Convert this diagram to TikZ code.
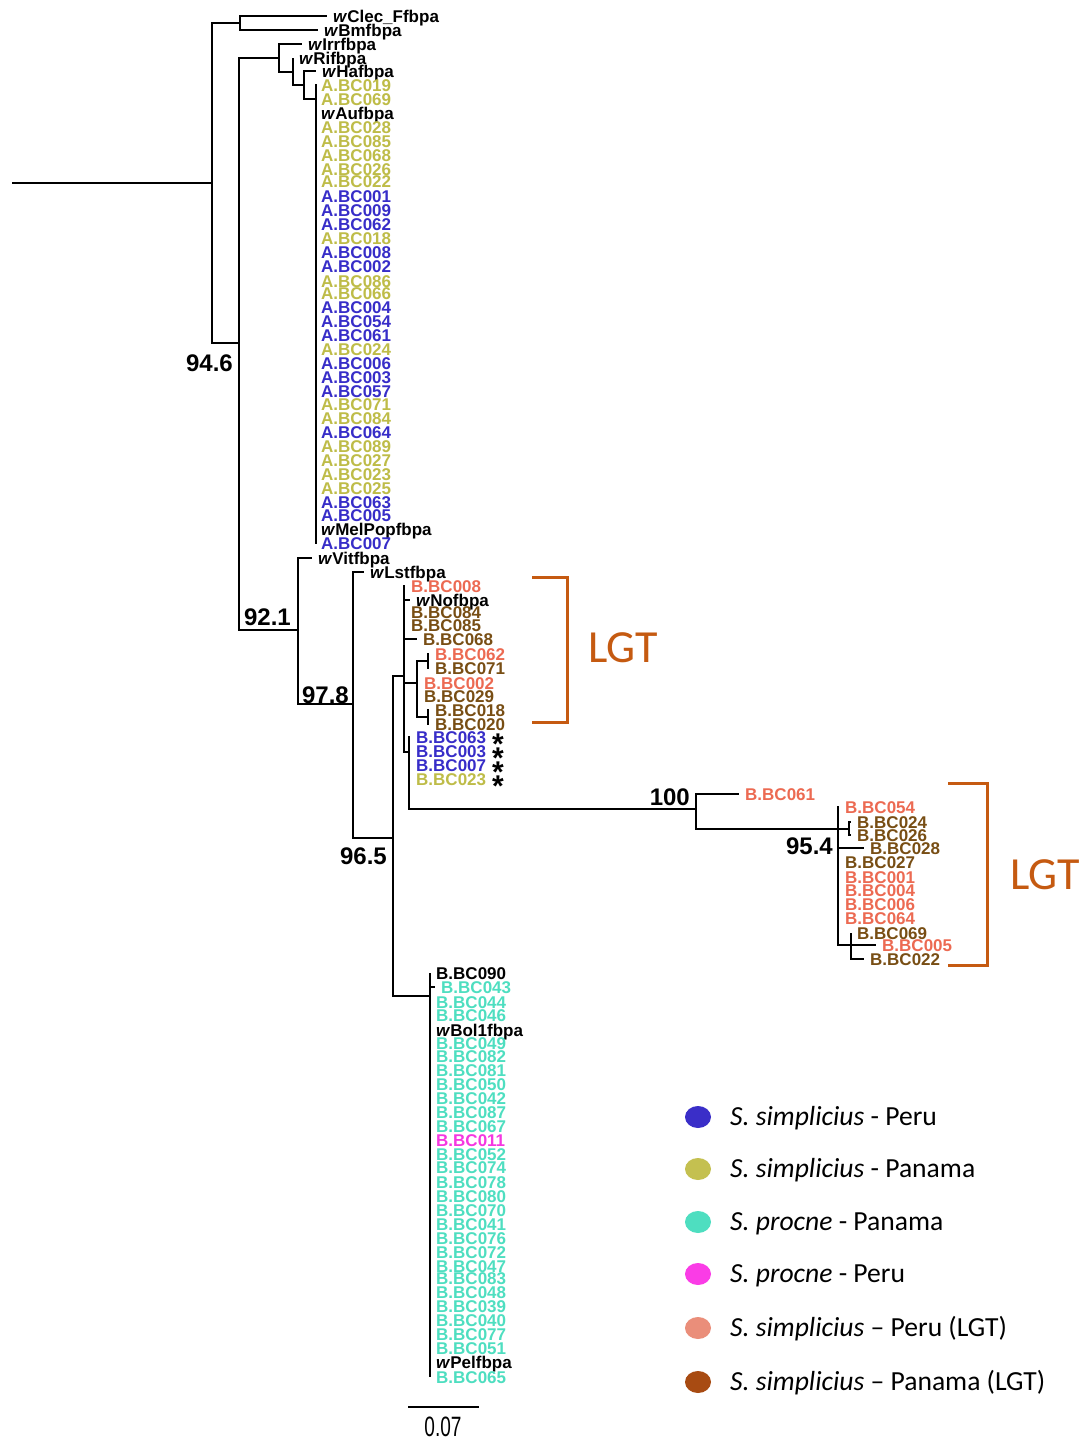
\documentclass[tikz,border=0pt]{standalone}
\usepackage{fontspec}
\setmainfont{Liberation Sans}
\newfontfamily\legfont{Carlito}
\usetikzlibrary{shapes.geometric,calc}
\definecolor{cblue}{RGB}{55,45,200}
\definecolor{colive}{RGB}{190,188,72}
\definecolor{cteal}{RGB}{78,222,192}
\definecolor{cmag}{RGB}{245,55,225}
\definecolor{csal}{RGB}{236,106,82}
\definecolor{cbrn}{RGB}{120,78,20}
\definecolor{dblue}{RGB}{58,46,200}
\definecolor{dolive}{RGB}{196,192,80}
\definecolor{dteal}{RGB}{78,222,192}
\definecolor{dmag}{RGB}{250,60,230}
\definecolor{dsal}{RGB}{234,142,122}
\definecolor{dbrn}{RGB}{168,75,18}
\definecolor{corg}{RGB}{197,90,17}
\newcommand\tipset[2]{%
  \foreach \lx/\ly/\lcol/\ltxt/\lname in {#2}{%
    \node[leaf,text=\lcol] (\lname) at (\lx,\ly) {\ltxt};
    \draw[br] (#1) |- ([xshift=-6pt]\lname.west);
  }}
\begin{document}
\begin{tikzpicture}[x=1pt,y=-1pt,
  leaf/.style={anchor=west,inner sep=0pt,text height=12pt,text depth=0pt,font=\fontsize{17}{17}\selectfont\bfseries},
  br/.style={line width=1.7pt},
  sup/.style={anchor=east,inner sep=0pt,font=\fontsize{24}{24}\selectfont\bfseries},
  lgt/.style={inner sep=0pt,text=corg,font=\legfont\fontsize{46}{46}\selectfont},
  brk/.style={draw=corg,line width=3pt},
  dot/.style={ellipse,minimum width=26pt,minimum height=22pt,inner sep=0pt},
  legtxt/.style={anchor=base west,inner sep=0pt,font=\legfont\fontsize{27.6}{28}\selectfont},
  star/.style={anchor=center,inner sep=0pt,text height=10pt,text depth=0pt,font=\fontsize{30}{30}\selectfont\bfseries}
]
\useasboundingbox (0,0) rectangle (1085,1441);

% internal nodes
\coordinate (r0) at (12,183);
\coordinate (nR) at (212,183);
\coordinate (n1) at (240,23);
\coordinate (n2) at (239,343);
\coordinate (n3) at (279,58);
\coordinate (n5) at (293,72);
\coordinate (n6) at (304,85);
\coordinate (nA) at (316,99);
\coordinate (n4) at (298,630);
\coordinate (n7) at (353,704);
\coordinate (n8) at (393,838);
\coordinate (n9) at (404,676);
\coordinate (n10) at (417,683);
\coordinate (n12) at (428,661);
\coordinate (n13) at (428,717);
\coordinate (n11) at (409,752);
\coordinate (n14) at (696,809);
\coordinate (n15) at (838,829);
\coordinate (n16) at (849,829);
\coordinate (n17) at (851,945);
\coordinate (nB) at (430,996);

\draw[br] (r0) -- (nR);
\draw[br] (nR) |- (n1);
\draw[br] (nR) |- (n2);
\draw[br] (n2) |- (n3);
\draw[br] (n2) |- (n4);
\draw[br] (n3) |- (n5);
\draw[br] (n5) |- (n6);
\draw[br] (n6) |- (nA);
\draw[br] (n4) |- (n7);
\draw[br] (n7) |- (n8);
\draw[br] (n8) |- (n9);
\draw[br] (n8) |- (nB);
\draw[br] (n9) |- (n10);
\draw[br] (n9) |- (n11);
\draw[br] (n10) |- (n12);
\draw[br] (n10) |- (n13);
\draw[br] (n11) |- (n14);
\draw[br] (n14) |- (n15);
\draw[br] (n15) |- (n16);
\draw[br] (n15) |- (n17);

% leaves
\tipset{n1}{333/16/black/{\textit{w}Clec\_Ffbpa}/wClec, 324/30/black/{\textit{w}Bmfbpa}/wBmf}
\tipset{n3}{308/44/black/{\textit{w}Irrfbpa}/wIrr}
\tipset{n5}{299/58/black/{\textit{w}Rifbpa}/wRif}
\tipset{n6}{322/71/black/{\textit{w}Hafbpa}/wHaf}
\tipset{nA}{321/85/colive/A.BC019/a019, 321/99/colive/A.BC069/a069,
 321/113/black/{\textit{w}Aufbpa}/wAuf, 321/127/colive/A.BC028/a028,
 321/141/colive/A.BC085/a085, 321/155/colive/A.BC068/a068,
 321/169/colive/A.BC026/a026, 321/181/colive/A.BC022/a022,
 321/196/cblue/A.BC001/a001, 321/210/cblue/A.BC009/a009,
 321/224/cblue/A.BC062/a062, 321/238/colive/A.BC018/a018,
 321/252/cblue/A.BC008/a008, 321/266/cblue/A.BC002/a002,
 321/281/colive/A.BC086/a086, 321/293/colive/A.BC066/a066,
 321/307/cblue/A.BC004/a004, 321/321/cblue/A.BC054/a054,
 321/335/cblue/A.BC061/a061, 321/349/colive/A.BC024/a024,
 321/363/cblue/A.BC006/a006, 321/377/cblue/A.BC003/a003,
 321/391/cblue/A.BC057/a057, 321/404/colive/A.BC071/a071,
 321/418/colive/A.BC084/a084, 321/432/cblue/A.BC064/a064,
 321/446/colive/A.BC089/a089, 321/460/colive/A.BC027/a027,
 321/474/colive/A.BC023/a023, 321/488/colive/A.BC025/a025,
 321/502/cblue/A.BC063/a063, 321/515/cblue/A.BC005/a005,
 321/529/black/{\textit{w}MelPopfbpa}/wMel, 321/543/cblue/A.BC007/a007}
\tipset{n4}{318/558/black/{\textit{w}Vitfbpa}/wVit}
\tipset{n7}{370/572/black/{\textit{w}Lstfbpa}/wLst}
\tipset{n9}{411/586/csal/B.BC008/b008, 416/600/black/{\textit{w}Nofbpa}/wNof,
 411/612/cbrn/B.BC084/b084, 411/625/cbrn/B.BC085/b085, 423/639/cbrn/B.BC068/b068}
\tipset{n12}{435/654/csal/B.BC062/b062, 435/668/cbrn/B.BC071/b071}
\tipset{n10}{424/683/csal/B.BC002/b002, 424/696/cbrn/B.BC029/b029}
\tipset{n13}{435/710/cbrn/B.BC018/b018, 435/724/cbrn/B.BC020/b020}
\tipset{n11}{416/737/cblue/B.BC063/b063, 416/751/cblue/B.BC003/b003,
 416/765/cblue/B.BC007/b007, 416/779/colive/B.BC023/b023}
\tipset{n14}{745/794/csal/B.BC061/b061}
\tipset{n15}{845/807/csal/B.BC054/b054, 870/848/cbrn/B.BC028/b028,
 845/862/cbrn/B.BC027/b027, 845/877/csal/B.BC001/b001,
 845/890/csal/B.BC004/b004, 845/904/csal/B.BC006/b006, 845/918/csal/B.BC064/b064}
\tipset{n16}{857/822/cbrn/B.BC024/b024, 857/835/cbrn/B.BC026/b026}
\tipset{n17}{857/933/cbrn/B.BC069/b069, 882/945/csal/B.BC005/b005, 870/959/cbrn/B.BC022/b022}
\tipset{nB}{436/973/black/B.BC090/b090, 441/987/cteal/B.BC043/b043,
 436/1002/cteal/B.BC044/b044, 436/1015/cteal/B.BC046/b046,
 436/1030/black/{\textit{w}Bol1fbpa}/wBol, 436/1043/cteal/B.BC049/b049,
 436/1056/cteal/B.BC082/b082, 436/1070/cteal/B.BC081/b081,
 436/1084/cteal/B.BC050/b050, 436/1098/cteal/B.BC042/b042,
 436/1112/cteal/B.BC087/b087, 436/1126/cteal/B.BC067/b067,
 436/1140/cmag/B.BC011/b011, 436/1154/cteal/B.BC052/b052,
 436/1167/cteal/B.BC074/b074, 436/1182/cteal/B.BC078/b078,
 436/1196/cteal/B.BC080/b080, 436/1210/cteal/B.BC070/b070,
 436/1224/cteal/B.BC041/b041, 436/1238/cteal/B.BC076/b076,
 436/1252/cteal/B.BC072/b072, 436/1266/cteal/B.BC047/b047,
 436/1278/cteal/B.BC083/b083, 436/1292/cteal/B.BC048/b048,
 436/1306/cteal/B.BC039/b039, 436/1320/cteal/B.BC040/b040,
 436/1334/cteal/B.BC077/b077, 436/1348/cteal/B.BC051/b051,
 436/1362/black/{\textit{w}Pelfbpa}/wPel, 436/1377/cteal/B.BC065/b065}

% asterisks
\foreach \ly/\lname in {737/s1,751/s2,765/s3,779/s4}
  \node[star] (\lname) at (498,\ly) {\raisebox{-12pt}{*}};

% support values
\node[sup] (v946) at (233,363) {94.6};
\node[sup] (v921) at (291,617) {92.1};
\node[sup] (v978) at (349,695) {97.8};
\node[sup] (v965) at (387,856) {96.5};
\node[sup] (v100) at (690,797) {100};
\node[sup] (v954) at (833,846) {95.4};

% LGT brackets
\coordinate (k1a) at (532,577);
\coordinate (k1b) at (567,577);
\coordinate (k1c) at (567,722);
\coordinate (k1d) at (532,722);
\draw[brk] (k1a) -- (k1b) -- (k1c) -- (k1d);
\node[lgt] (lgt1) at (623,648) {LGT};
\coordinate (k2a) at (948,783);
\coordinate (k2b) at (987,783);
\coordinate (k2c) at (987,965);
\coordinate (k2d) at (948,965);
\draw[brk] (k2a) -- (k2b) -- (k2c) -- (k2d);
\node[lgt] (lgt2) at (1045,875) {LGT};

% scale bar
\coordinate (sbA) at (408,1407);
\coordinate (sbB) at (479,1407);
\draw[br] (sbA) -- (sbB);
\node[inner sep=0pt] (sbl) at (443,1427) {\scalebox{0.68}[1]{\fontsize{28}{28}\selectfont 0.07}};

% legend
\foreach \ly/\lcol/\ltxt/\lname in {
  1117/dblue/{\textit{S. simplicius} - Peru}/g1,
  1169/dolive/{\textit{S. simplicius} - Panama}/g2,
  1222/dteal/{\textit{S. procne} - Panama}/g3,
  1274/dmag/{\textit{S. procne} - Peru}/g4,
  1328/dsal/{\textit{S. simplicius} – Peru (LGT)}/g5,
  1382/dbrn/{\textit{S. simplicius} – Panama (LGT)}/g6}{
  \node[dot,fill=\lcol] (\lname d) at (698,\ly) {};
  \node[legtxt] (\lname t) at (730,\ly+8) {\ltxt};
}
\end{tikzpicture}
\end{document}
